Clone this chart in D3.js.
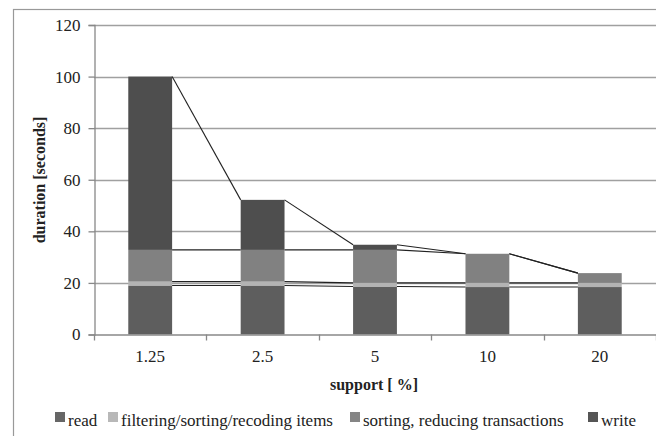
<!DOCTYPE html>
<html><head><meta charset="utf-8">
<script src="https://cdn.jsdelivr.net/npm/d3@7"></script>
<style>
body{margin:0;background:#fff;}
svg{display:block;}
svg text{font-family:"Liberation Serif","DejaVu Serif",serif !important;}
</style></head>
<body>
<svg id="c" width="656" height="436"></svg>
<script>
const categories = ["1.25","2.5","5","10","20"];
const seriesNames = ["read","filtering/sorting/recoding items","sorting, reducing transactions","write"];
const read      = [19.0, 19.0, 18.6, 18.4, 18.4];
const filtering = [1.5, 1.5, 1.4, 1.6, 1.6];
const sorting   = [12.3, 12.3, 12.8, 11.3, 3.8];
const write     = [67.2, 19.4, 2.0, 0, 0];
const yTicks = [0,20,40,60,80,100,120];
const colors = ["#5e5e5e","#b3b3b3","#818181","#4e4e4e"];
const legendColors = ["#666666","#b8b8b8","#858585","#555555"];

const svg = d3.select("#c");
const FONT = "'Liberation Serif','DejaVu Serif',serif";
const L = 94, R = 656, T = 25, B = 334.5;
const x = d3.scaleBand().domain(categories).range([L,R]).paddingInner(0.61).paddingOuter(0.305);
const y = d3.scaleLinear().domain([0,120]).range([B,T]);

svg.append("rect").attr("x",13.5).attr("y",9.5).attr("width",700).attr("height",500)
  .attr("fill","none").attr("stroke","#999").attr("stroke-width",1.2);

svg.append("g").selectAll("line").data(yTicks.filter(d=>d>0)).join("line")
  .attr("x1",L).attr("x2",R).attr("y1",d=>Math.round(y(d))+0.5).attr("y2",d=>Math.round(y(d))+0.5)
  .attr("stroke","#a0a0a0").attr("stroke-width",1.5);

const rows = categories.map((c,i)=>({cat:c, s0:read[i], s1:filtering[i], s2:sorting[i], s3:write[i]}));
const stack = d3.stack().keys(["s0","s1","s2","s3"])(rows);

const gBars = svg.append("g");
stack.forEach((layer,k)=>{
  gBars.selectAll(null).data(layer).join("rect")
    .attr("x",d=>x(d.data.cat)).attr("width",x.bandwidth())
    .attr("y",d=>y(d[1])).attr("height",d=>Math.max(0,y(d[0])-y(d[1])))
    .attr("fill",colors[k]);
});

const gLines = svg.append("g");
stack.forEach((layer,k)=>{
  for(let i=0;i<layer.length-1;i++){
    gLines.append("line")
      .attr("x1",x(categories[i])+x.bandwidth()).attr("y1",y(layer[i][1]))
      .attr("x2",x(categories[i+1])).attr("y2",y(layer[i+1][1]))
      .attr("stroke","#222").attr("stroke-width",1.1);
  }
});

const yAxis = svg.append("g").attr("transform",`translate(${L+0.5},0)`)
  .call(d3.axisLeft(y).tickValues(yTicks).tickSize(6).tickPadding(8));
yAxis.attr("font-family",FONT);
yAxis.select(".domain").attr("stroke","#888").attr("stroke-width",1.3);
yAxis.selectAll(".tick line").attr("stroke","#888").attr("stroke-width",1.3);
yAxis.selectAll(".tick text").attr("font-size",17).attr("fill","#222");

const xAxis = svg.append("g").attr("transform",`translate(0,${B})`)
  .call(d3.axisBottom(x).tickSize(0).tickPadding(15));
xAxis.attr("font-family",FONT);
xAxis.select(".domain").attr("stroke","#888").attr("stroke-width",1.3);
xAxis.selectAll(".tick text").attr("font-size",17).attr("fill","#222");
const step = x.step();
const bounds = categories.map(c=>x(c)-(step-x.bandwidth())/2).concat([x(categories[categories.length-1])+x.bandwidth()+(step-x.bandwidth())/2]);
svg.append("g").selectAll("line").data(bounds).join("line")
  .attr("x1",d=>Math.round(d)+0.5).attr("x2",d=>Math.round(d)+0.5)
  .attr("y1",B).attr("y2",B+6).attr("stroke","#888").attr("stroke-width",1.3);

svg.append("text").attr("x",374).attr("y",390).attr("text-anchor","middle").attr("font-family",FONT)
  .attr("font-size",16).attr("font-weight","bold").attr("fill","#222").text("support [ %]");
svg.append("text").attr("transform","translate(45,180) rotate(-90)").attr("text-anchor","middle").attr("font-family",FONT)
  .attr("font-size",16).attr("font-weight","bold").attr("fill","#222").text("duration [seconds]");

const legX = [55,108,350,588];
const lg = svg.append("g");
seriesNames.forEach((n,k)=>{
  lg.append("rect").attr("x",legX[k]).attr("y",412).attr("width",10).attr("height",10).attr("fill",legendColors[k]);
  lg.append("text").attr("x",legX[k]+13).attr("y",426).attr("font-family",FONT).attr("font-size",17).attr("fill","#222").text(n);
});
</script>
</body></html>
